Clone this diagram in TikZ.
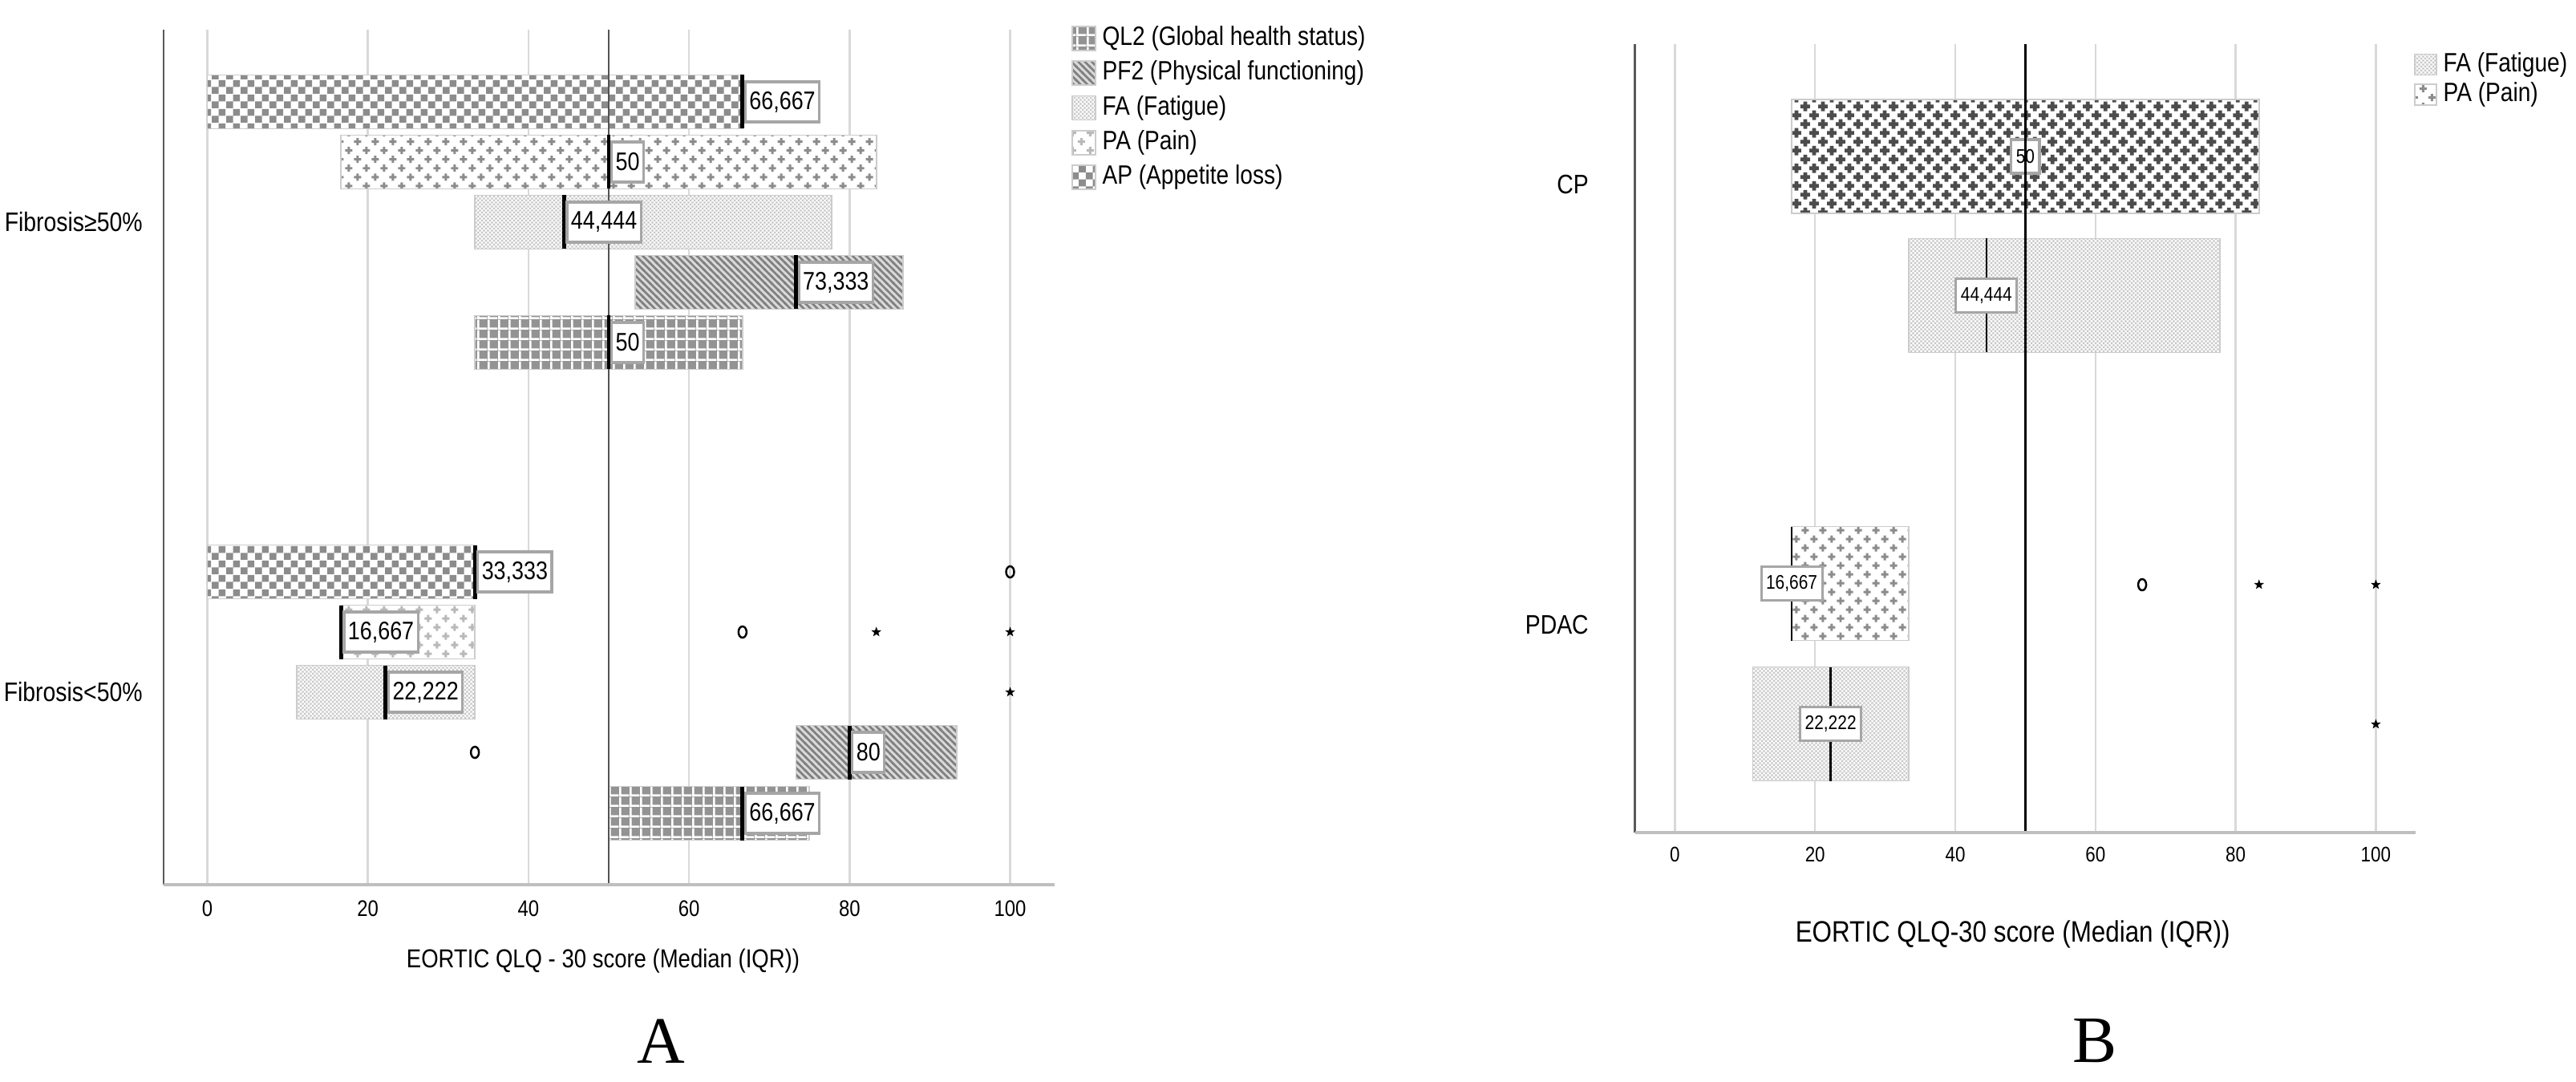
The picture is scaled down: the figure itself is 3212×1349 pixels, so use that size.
\documentclass[tikz,border=0pt]{standalone}
\usepackage{fontspec}
\newfontfamily\spss[FakeStretch=0.85]{Liberation Sans}
\newfontfamily\panelfont{Liberation Serif}
\usetikzlibrary{patterns,shapes.geometric,positioning}

% fill patterns of the bars (1px = 0.2845pt)
\pgfdeclarepatternformonly{apchecker}{\pgfqpoint{0pt}{0pt}}{\pgfqpoint{5pt}{5pt}}{\pgfqpoint{5pt}{5pt}}{%
  \pgfpathrectangle{\pgfqpoint{0pt}{0pt}}{\pgfqpoint{2.5pt}{2.5pt}}%
  \pgfpathrectangle{\pgfqpoint{2.5pt}{2.5pt}}{\pgfqpoint{2.5pt}{2.5pt}}%
  \pgfusepath{fill}}
\pgfdeclarepatternformonly{paplus}{\pgfqpoint{-1pt}{-1pt}}{\pgfqpoint{7.26pt}{7.26pt}}{\pgfqpoint{6.26pt}{6.26pt}}{%
  \pgfpathrectangle{\pgfqpoint{0.285pt}{1.14pt}}{\pgfqpoint{2.56pt}{0.85pt}}%
  \pgfpathrectangle{\pgfqpoint{1.14pt}{0.285pt}}{\pgfqpoint{0.85pt}{2.56pt}}%
  \pgfpathrectangle{\pgfqpoint{3.415pt}{4.27pt}}{\pgfqpoint{2.56pt}{0.85pt}}%
  \pgfpathrectangle{\pgfqpoint{4.27pt}{3.415pt}}{\pgfqpoint{0.85pt}{2.56pt}}%
  \pgfusepath{fill}}
\pgfdeclarepatternformonly{padense}{\pgfqpoint{-1pt}{-1pt}}{\pgfqpoint{7.26pt}{7.26pt}}{\pgfqpoint{6.26pt}{6.26pt}}{%
  \pgfpathrectangle{\pgfqpoint{-0.135pt}{0.89pt}}{\pgfqpoint{3.4pt}{1.35pt}}%
  \pgfpathrectangle{\pgfqpoint{0.89pt}{-0.135pt}}{\pgfqpoint{1.35pt}{3.4pt}}%
  \pgfpathrectangle{\pgfqpoint{2.995pt}{4.02pt}}{\pgfqpoint{3.4pt}{1.35pt}}%
  \pgfpathrectangle{\pgfqpoint{4.02pt}{2.995pt}}{\pgfqpoint{1.35pt}{3.4pt}}%
  \pgfusepath{fill}}
\pgfdeclarepatternformonly{fadots}{\pgfqpoint{0pt}{0pt}}{\pgfqpoint{1.4pt}{1.4pt}}{\pgfqpoint{1.4pt}{1.4pt}}{%
  \pgfpathrectangle{\pgfqpoint{0pt}{0pt}}{\pgfqpoint{0.6pt}{0.6pt}}%
  \pgfpathrectangle{\pgfqpoint{0.7pt}{0.7pt}}{\pgfqpoint{0.6pt}{0.6pt}}%
  \pgfusepath{fill}}
\pgfdeclarepatternformonly{pflines}{\pgfqpoint{-1pt}{-1pt}}{\pgfqpoint{3.4pt}{3.4pt}}{\pgfqpoint{2.4pt}{2.4pt}}{%
  \pgfsetlinewidth{0.75pt}%
  \pgfpathmoveto{\pgfqpoint{-0.3pt}{2.7pt}}%
  \pgfpathlineto{\pgfqpoint{2.7pt}{-0.3pt}}%
  \pgfusepath{stroke}}
\pgfdeclarepatternformonly{qlgrid}{\pgfqpoint{0pt}{0pt}}{\pgfqpoint{3.6pt}{3.6pt}}{\pgfqpoint{3.6pt}{3.6pt}}{%
  \pgfpathrectangle{\pgfqpoint{0pt}{0pt}}{\pgfqpoint{3.6pt}{0.75pt}}%
  \pgfpathrectangle{\pgfqpoint{0pt}{0pt}}{\pgfqpoint{0.75pt}{3.6pt}}%
  \pgfusepath{fill}}

% low/high/median/label/row/style
\def\rowsA{0/66.667/66.667/66{,}667/127/apbar,
  16.667/83.333/50/50/202/pabar,
  33.333/77.778/44.444/44{,}444/277/fabar,
  53.333/86.667/73.333/73{,}333/352/pfbar,
  33.333/66.667/50/50/427/qlbar,
  0/33.333/33.333/33{,}333/713/apbar,
  16.667/33.333/16.667/16{,}667/788/palight,
  11.111/33.333/22.222/22{,}222/863/fabar,
  73.333/93.333/80/80/938/pfbar,
  50/75/66.667/66{,}667/1014/qlbar}
\def\rowsB{16.667/83.333/50/50/195/padark,
  33.333/77.778/44.444/44{,}444/368.5/fabar,
  16.667/33.333/16.667/16{,}667/727.5/pabar,
  11.111/33.333/22.222/22{,}222/902.5/fabar}

\begin{document}
\begin{tikzpicture}[x=0.01cm,y=-0.01cm,
  gridln/.style={gray!30,line width=0.7pt},
  refln/.style={gray!65!black,line width=0.8pt},
  yaxis/.style={gray!70!black,line width=0.7pt},
  xaxis/.style={gray!50,line width=1.4pt},
  barbase/.style={draw=gray!40,line width=0.5pt},
  apbar/.style={barbase,preaction={fill=white},pattern=apchecker,pattern color=gray!90},
  pabar/.style={barbase,preaction={fill=white},pattern=paplus,pattern color=gray!90},
  palight/.style={barbase,preaction={fill=white},pattern=paplus,pattern color=gray!55},
  padark/.style={barbase,preaction={fill=white},pattern=padense,pattern color=gray!60!black},
  fabar/.style={barbase,preaction={fill=gray!5},pattern=fadots,pattern color=gray!45},
  pfbar/.style={barbase,preaction={fill=gray!30},pattern=pflines,pattern color=gray},
  qlbar/.style={barbase,preaction={fill=gray!85},pattern=qlgrid,pattern color=white},
  medA/.style={line width=1.4pt},
  medB/.style={line width=0.7pt},
  valA/.style={draw=gray!70,line width=0.9pt,fill=white,inner xsep=0.05cm,inner ysep=0pt,
    minimum height=0.5cm,anchor=west,font=\spss\fontsize{9}{10}\selectfont},
  valB/.style={valA,anchor=center,inner xsep=0.06cm,minimum height=0.42cm,
    font=\spss\fontsize{7}{8}\selectfont},
  outc/.style={draw,ellipse,line width=0.7pt,inner sep=0pt,minimum width=0.1cm,minimum height=0.14cm},
  outs/.style={star,star points=5,star point ratio=2.4,fill,inner sep=0pt,minimum size=0.13cm},
  ticklab/.style={font=\spss\fontsize{8}{9}\selectfont},
  catlab/.style={anchor=east,font=\spss\fontsize{9.5}{11}\selectfont},
  leglab/.style={inner sep=0pt,font=\spss\fontsize{9.4}{11}\selectfont},
  swatch/.style={inner sep=0pt,minimum width=0.29cm,minimum height=0.3cm},
  axtitle/.style={font=\spss\fontsize{9.2}{11}\selectfont},
  panel/.style={font=\panelfont\fontsize{23.5}{26}\selectfont}]

  \fill[white] (0,0) rectangle (3212,1349);
  \useasboundingbox (0,0) rectangle (3212,1349);

  % panel A
  \begin{scope}[shift={(258.5,0)},xscale=10.01]
    \foreach \v in {0,20,...,100}{
      \draw[gridln] (\v,37) -- (\v,1103);
      \node[ticklab] (tA\v) at (\v,1133) {\v};
    }
    \foreach \lo/\hi/\md/\lab/\yc/\sty in \rowsA
      \path[\sty] (\lo,\yc-33.5) rectangle (\hi,\yc+33.5);
    \draw[refln] (50,37) -- (50,1103);
    \foreach \lo/\hi/\md/\lab/\yc/\sty [count=\i] in \rowsA{
      \draw[medA] (\md,\yc-33.5) -- (\md,\yc+33.5);
      \node[valA] (mA\i) at (\md+0.2,\yc) {\lab};
    }
    \draw[yaxis] (-5.44,37) -- (-5.44,1103);
    \draw[xaxis] (-5.44,1103) -- (105.5,1103);
    % outliers and extremes
    \node[outc] (oA1) at (100,713) {};
    \node[outc] (oA2) at (66.667,788) {};
    \node[outs] (sA1) at (83.333,788) {};
    \node[outs] (sA2) at (100,788) {};
    \node[outs] (sA3) at (100,863) {};
    \node[outc] (oA3) at (33.333,938) {};
    \node[catlab] (fibhi) at (-6.84,277) {Fibrosis≥50\%};
    \node[catlab] (fiblo) at (-6.84,863) {Fibrosis<50\%};
    \node[axtitle] (ttlA) at (49.3,1198) {EORTIC QLQ - 30 score (Median (IQR))};
    \node[panel] (pA) at (56.5,1298) {A};
  \end{scope}

  % legend of A
  \node[swatch,qlbar] (swql) at (1351.5,48) {};
  \node[leglab,right=0.07cm of swql] (lgql) {QL2 (Global health status)};
  \node[swatch,pfbar,below=0.115cm of swql] (swpf) {};
  \node[leglab,right=0.07cm of swpf] (lgpf) {PF2 (Physical functioning)};
  \node[swatch,fabar,below=0.115cm of swpf] (swfa) {};
  \node[leglab,right=0.07cm of swfa] (lgfa) {FA (Fatigue)};
  \node[swatch,palight,below=0.115cm of swfa] (swpa) {};
  \node[leglab,right=0.07cm of swpa] (lgpa) {PA (Pain)};
  \node[swatch,apbar,below=0.115cm of swpa] (swap) {};
  \node[leglab,right=0.07cm of swap] (lgap) {AP (Appetite loss)};

  % panel B
  \begin{scope}[shift={(2088.4,0)},xscale=8.74]
    \foreach \v in {0,20,...,100}{
      \draw[gridln] (\v,55) -- (\v,1038);
      \node[ticklab,font=\spss\fontsize{7.5}{9}\selectfont] (tB\v) at (\v,1065) {\v};
    }
    \foreach \lo/\hi/\md/\lab/\yc/\sty in \rowsB
      \path[\sty] (\lo,\yc-71) rectangle (\hi,\yc+71);
    \foreach \lo/\hi/\md/\lab/\yc/\sty [count=\i] in \rowsB{
      \draw[medB] (\md,\yc-71) -- (\md,\yc+71);
      \node[valB] (mB\i) at (\md,\yc) {\lab};
    }
    \draw[refln,black] (50,55) -- (50,1038);
    \draw[yaxis] (-5.71,55) -- (-5.71,1038);
    \draw[xaxis] (-5.71,1038) -- (105.7,1038);
    % outliers and extremes
    \node[outc] (oB1) at (66.667,729) {};
    \node[outs] (sB1) at (83.333,729) {};
    \node[outs] (sB2) at (100,729) {};
    \node[outs] (sB3) at (100,903) {};
    \node[catlab] (cp) at (-10.9,230) {CP};
    \node[catlab] (pdac) at (-10.9,779) {PDAC};
    \node[axtitle,font=\spss\fontsize{10.5}{12}\selectfont] (ttlB) at (48.2,1165) {EORTIC QLQ-30 score (Median (IQR))};
    \node[panel] (pB) at (59.9,1298) {B};
  \end{scope}

  % legend of B
  \node[swatch,fabar,minimum width=0.27cm,minimum height=0.26cm] (swfaB) at (3024.5,80.5) {};
  \node[leglab,right=0.07cm of swfaB] (lgfaB) {FA (Fatigue)};
  \node[swatch,pabar,minimum width=0.27cm,minimum height=0.26cm,below=0.1cm of swfaB] (swpaB) {};
  \node[leglab,right=0.07cm of swpaB] (lgpaB) {PA (Pain)};
\end{tikzpicture}
\end{document}
